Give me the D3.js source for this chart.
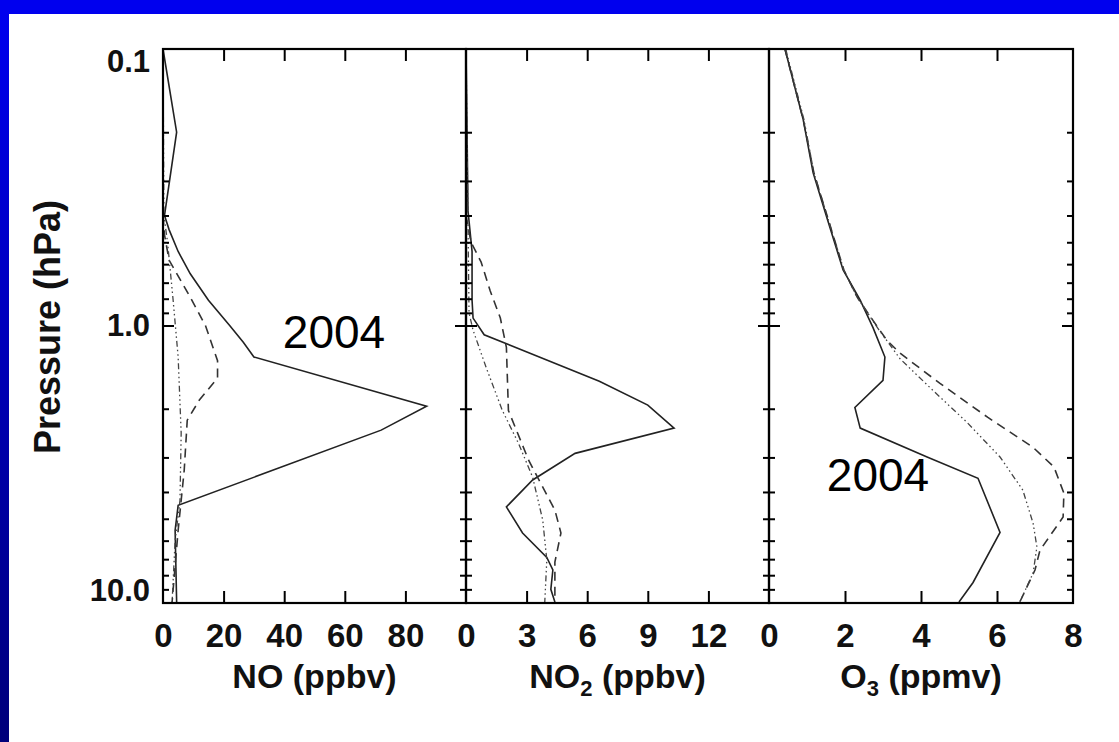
<!DOCTYPE html>
<html>

<head>
  <meta charset="utf8">
  <script src="https://d3js.org/d3.v7.min.js"></script>
  <style>
    body { margin: 0; background: #fff; }
    .lab text { font-family: "Liberation Sans", Arial, sans-serif; font-weight: bold; fill: #111; }
  </style>
</head>

<body>
  <svg id="chart" width="1119" height="742"></svg>

  <script>
    // pressure (hPa) / mixing ratio pairs
    var noSolid = [[0.1, 0], [0.2, 4.5], [0.4, 0.5], [0.45, 2], [0.54, 5], [0.65, 9], [0.81, 15], [1.0, 22], [1.15, 26.5], [1.3, 30], [1.96, 87], [2.39, 72], [4.47, 5], [5.5, 4], [10, 4.5]];
    var noDash = [[0.4, 0], [0.47, 0.5], [0.58, 2], [0.79, 9], [1.0, 14], [1.34, 18], [1.55, 18], [1.86, 12], [2.2, 8], [3.34, 7], [5.5, 5], [10, 3]];
    var noDot = [[0.1, 0], [0.4, 0.3], [0.5, 1.5], [0.8, 3.3], [1.3, 5], [2.45, 6], [4.3, 5.6], [6, 4], [10, 3]];

    var no2Solid = [[0.1, 0], [0.385, 0.1], [0.54, 0.3], [0.81, 0.3], [0.94, 0.35], [1.08, 0.9], [1.59, 6.6], [1.94, 9.0], [2.35, 10.3], [2.9, 5.4], [3.62, 3.3], [4.53, 2.0], [5.63, 2.8], [6.9, 4.0], [7.66, 4.3], [9.0, 4.2], [10, 4.4]];
    var no2Dash = [[0.4, 0], [0.5, 0.25], [0.59, 0.75], [0.75, 1.2], [0.94, 1.7], [1.2, 2.0], [2.03, 2.1], [3.07, 3.1], [3.84, 3.8], [4.65, 4.4], [5.63, 4.7], [7.17, 4.4], [10, 4.4]];
    var no2Dot = [[0.1, 0], [0.9, 0.15], [1.04, 0.35], [1.42, 1.0], [2.03, 1.8], [2.67, 2.6], [3.54, 3.3], [5.06, 3.8], [7.05, 4.0], [10, 3.9]];

    var o3Solid = [[0.1, 0.42], [0.18, 0.9], [0.28, 1.16], [0.41, 1.53], [0.63, 1.95], [0.81, 2.4], [1.02, 2.74], [1.3, 3.05], [1.58, 3.0], [1.98, 2.26], [2.35, 2.4], [2.99, 4.16], [3.57, 5.5], [5.6, 6.08], [8.5, 5.37], [10, 5.0]];
    var o3Dash = [[0.1, 0.42], [0.18, 0.9], [0.28, 1.18], [0.41, 1.55], [0.63, 1.97], [0.79, 2.32], [0.96, 2.74], [1.13, 3.1], [1.26, 3.45], [1.62, 4.5], [2.15, 5.76], [2.76, 6.95], [3.25, 7.5], [4.04, 7.76], [4.93, 7.74], [6.5, 7.13], [7.66, 7.0], [10, 6.6]];
    var o3Dot = [[0.1, 0.44], [0.18, 0.92], [0.28, 1.18], [0.41, 1.55], [0.63, 1.97], [0.79, 2.32], [1.04, 2.9], [1.32, 3.45], [1.72, 4.32], [2.24, 5.21], [2.99, 6.08], [3.94, 6.68], [5.19, 6.95], [6.32, 7.05], [7.86, 6.95], [10, 6.6]];

    var noTicks = [0, 20, 40, 60, 80];
    var no2Ticks = [0, 3, 6, 9, 12];
    var o3Ticks = [0, 2, 4, 6, 8];
    var pressureTicks = [0.1, 1, 10];

    var panels = [
      { domain: [0, 100], ticks: noTicks, marks: [20, 40, 60, 80], series: [noSolid, noDash, noDot], title: ['NO', '', ' (ppbv)'] },
      { domain: [0, 15], ticks: no2Ticks, marks: [3, 6, 9, 12], series: [no2Solid, no2Dash, no2Dot], title: ['NO', '2', ' (ppbv)'] },
      { domain: [0, 8], ticks: o3Ticks, marks: [2, 4, 6], series: [o3Solid, o3Dash, o3Dot], title: ['O', '3', ' (ppmv)'] }
    ];
    var styles = [
      { dash: null, color: '#222', w: 1.6 },
      { dash: '9,6', color: '#333', w: 1.6 },
      { dash: '6,3,1.5,3,1.5,3,1.5,3', color: '#444', w: 1.3 }
    ];

    var chart = d3.select('#chart');
    var W = 1119, H = 742;

    // blue slide frame
    var defs = chart.append('defs');
    var grad = defs.append('linearGradient').attr('id', 'side').attr('x1', 0).attr('y1', 0).attr('x2', 0).attr('y2', 1);
    grad.append('stop').attr('offset', 0).attr('stop-color', '#0000f0');
    grad.append('stop').attr('offset', 1).attr('stop-color', '#00007a');
    chart.append('rect').attr('width', W).attr('height', H).attr('fill', 'url(#side)');
    chart.append('rect').attr('x', 0).attr('y', 0).attr('width', W).attr('height', 14).attr('fill', '#0000ee');
    chart.append('rect').attr('x', 9).attr('y', 14).attr('width', W - 9).attr('height', H - 14).attr('fill', '#fff');

    var plotTop = 49, plotBottom = 602;
    var y = d3.scaleLog().domain([0.1, 10]).range([plotTop, plotBottom]);
    var edges = [163, 466, 769, 1073];

    var minor = y.ticks().filter((d) => pressureTicks.indexOf(d) < 0);

    panels.forEach(function (p, i) {
      var x = d3.scaleLinear().domain(p.domain).range([edges[i], edges[i + 1]]);
      var g = chart.append('g');

      var line = d3.line().x((d) => x(d[1])).y((d) => y(d[0]));
      p.series.forEach(function (s, k) {
        g.append('path')
          .attr('d', line(s))
          .attr('fill', 'none')
          .attr('stroke', styles[k].color)
          .attr('stroke-width', styles[k].w)
          .attr('stroke-dasharray', styles[k].dash);
      });

      // tick marks on all four sides, pointing inward
      var mk = function (sel) { sel.selectAll('text').remove(); sel.select('.domain').remove(); sel.selectAll('line').attr('stroke', '#000').attr('stroke-width', 2); };
      g.append('g').attr('transform', 'translate(0,' + plotTop + ')')
        .call(d3.axisTop(x).tickValues(p.marks).tickSize(-12)).call(mk);
      g.append('g').attr('transform', 'translate(0,' + (plotBottom + 1) + ')')
        .call(d3.axisBottom(x).tickValues(p.marks).tickSize(-12)).call(mk);
      [[d3.axisLeft, edges[i]], [d3.axisRight, edges[i + 1]]].forEach(function (a) {
        g.append('g').attr('transform', 'translate(' + a[1] + ',0)')
          .call(a[0](y).tickValues(minor).tickSize(-6)).call(mk);
        g.append('g').attr('transform', 'translate(' + a[1] + ',0)')
          .call(a[0](y).tickValues([1]).tickSize(-11)).call(mk);
      });

      g.append('rect')
        .attr('x', edges[i]).attr('y', plotTop)
        .attr('width', edges[i + 1] - edges[i]).attr('height', plotBottom + 1 - plotTop)
        .attr('fill', 'none').attr('stroke', '#000').attr('stroke-width', 2.2);

      // tick labels
      var lab = g.append('g').attr('class', 'lab')
        .attr('transform', 'translate(0,' + (plotBottom + 1) + ')')
        .call(d3.axisBottom(x).tickValues(p.ticks).tickSize(0).tickPadding(21).tickFormat(d3.format('d')));
      lab.select('.domain').remove();
      lab.selectAll('text').attr('font-size', 33);

      var t = g.append('text')
        .attr('x', (edges[i] + edges[i + 1]) / 2)
        .attr('y', 688)
        .attr('text-anchor', 'middle')
        .attr('font-family', '"Liberation Sans", Arial, sans-serif')
        .attr('font-weight', 'bold')
        .attr('font-size', 34)
        .attr('fill', '#111');
      t.append('tspan').text(p.title[0]);
      if (p.title[1]) t.append('tspan').attr('font-size', 22).attr('dy', 8).text(p.title[1]);
      t.append('tspan').attr('dy', p.title[1] ? -8 : 0).text(p.title[2]);
    });

    // pressure labels
    var yl = chart.append('g').attr('class', 'lab')
      .attr('transform', 'translate(' + edges[0] + ',0)')
      .call(d3.axisLeft(y).tickValues(pressureTicks).tickSize(0).tickPadding(13).tickFormat(d3.format('.1f')));
    yl.select('.domain').remove();
    yl.selectAll('text').attr('font-size', 31)
      .attr('dy', (d) => d === 0.1 ? '0.72em' : d === 10 ? '-0.05em' : '0.32em');

    chart.append('text')
      .attr('transform', 'translate(60,327) rotate(-90)')
      .attr('text-anchor', 'middle')
      .attr('font-family', '"Liberation Sans", Arial, sans-serif')
      .attr('font-weight', 'bold')
      .attr('font-size', 36)
      .attr('fill', '#111')
      .text('Pressure (hPa)');

    // year annotations
    [[334, 348], [878, 491]].forEach(function (a) {
      chart.append('text')
        .attr('x', a[0]).attr('y', a[1])
        .attr('text-anchor', 'middle')
        .attr('font-family', '"Liberation Sans", Arial, sans-serif')
        .attr('font-size', 46)
        .attr('fill', '#000')
        .text('2004');
    });
  </script>
</body>

</html>
